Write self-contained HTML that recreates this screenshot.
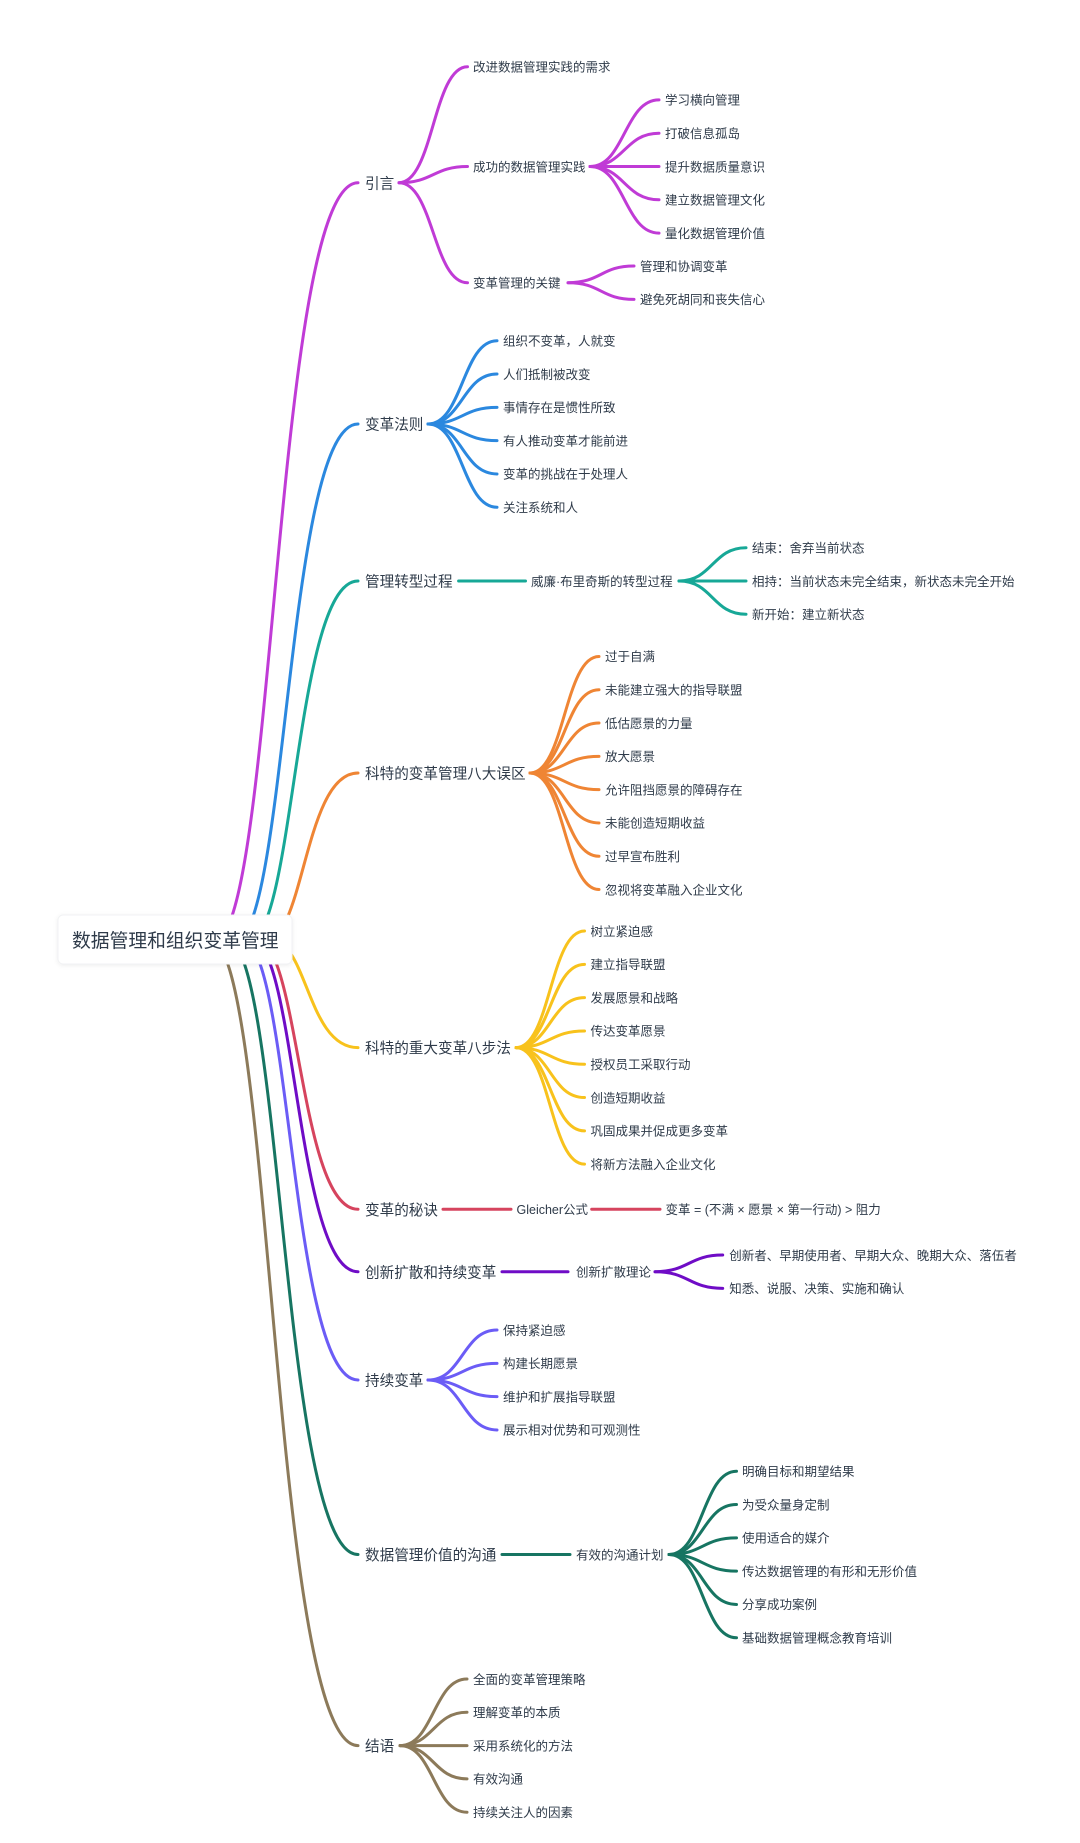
<!DOCTYPE html>
<html>
<head>
<meta charset="utf-8">
<style>
  html,body{margin:0;padding:0;background:#ffffff;}
  body{width:1080px;height:1843px;overflow:hidden;}
  svg{display:block;}
  text{font-family:"Liberation Sans","Noto Sans CJK SC",sans-serif;fill:#2f3b4a;}
  .l1{font-size:14.6px;}
  .l2{font-size:12.5px;}
  .rt{font-size:18.8px;}
  path{fill:none;stroke-width:3;stroke-linecap:round;}
</style>
</head>
<body>
<svg width="1080" height="1843" viewBox="0 0 1080 1843" xmlns="http://www.w3.org/2000/svg">
  <defs>
    <filter id="sh" x="-10%" y="-30%" width="120%" height="160%">
      <feDropShadow dx="0" dy="1" stdDeviation="2" flood-color="#000" flood-opacity="0.07"/>
    </filter>
  </defs>

  <!-- Root links -->
  <path stroke="#c03bd6" d="M214.6 940 C274.8 940 274.8 182.7 358 182.7"/>
  <path stroke="#2b88df" d="M235.4 940 C286.9 940 286.9 424 358 424"/>
  <path stroke="#17a897" d="M249 940 C294.8 940 294.8 581 358 581"/>
  <path stroke="#ef8534" d="M265.6 940 C304.4 940 304.4 773 358 773"/>
  <path stroke="#f8c21c" d="M270.7 940 C307.4 940 307.4 1047.6 358 1047.6"/>
  <path stroke="#d6445e" d="M256.7 940 C299.3 940 299.3 1209.3 358 1209.3"/>
  <path stroke="#6f0cc6" d="M251.3 940 C296.1 940 296.1 1271.7 358 1271.7"/>
  <path stroke="#6b5cf6" d="M242 940 C290.7 940 290.7 1380 358 1380"/>
  <path stroke="#177562" d="M226.9 940 C282 940 282 1554.5 358 1554.5"/>
  <path stroke="#8c7a5a" d="M210.4 940 C272.4 940 272.4 1745.6 358 1745.6"/>

  <!-- Root box -->
  <rect x="58" y="915" width="234" height="49" rx="5" ry="5" fill="#ffffff" stroke="#f1f2f4" stroke-width="1" filter="url(#sh)"/>
  <text class="rt" x="72" y="947.1">数据管理和组织变革管理</text>

  <!-- 引言 -->
  <g stroke="#c03bd6">
    <path d="M399 182.7 C433.25 182.7 433.25 66.7 467.5 66.7"/>
    <path d="M399 182.7 C433.25 182.7 433.25 166.5 467.5 166.5"/>
    <path d="M399 182.7 C433.25 182.7 433.25 282.7 467.5 282.7"/>
    <path d="M590 166.5 C624.5 166.5 624.5 99.9 659 99.9"/>
    <path d="M590 166.5 C624.5 166.5 624.5 133.2 659 133.2"/>
    <path d="M590 166.5 L659 166.5"/>
    <path d="M590 166.5 C624.5 166.5 624.5 199.8 659 199.8"/>
    <path d="M590 166.5 C624.5 166.5 624.5 233.1 659 233.1"/>
    <path d="M568 282.7 C601 282.7 601 266 634 266"/>
    <path d="M568 282.7 C601 282.7 601 299.4 634 299.4"/>
  </g>
  <text class="l1" x="365" y="188.25">引言</text>
  <text class="l2" x="473" y="71.45">改进数据管理实践的需求</text>
  <text class="l2" x="473" y="171.25">成功的数据管理实践</text>
  <text class="l2" x="473" y="287.45">变革管理的关键</text>
  <text class="l2" x="665" y="104.65">学习横向管理</text>
  <text class="l2" x="665" y="137.95">打破信息孤岛</text>
  <text class="l2" x="665" y="171.25">提升数据质量意识</text>
  <text class="l2" x="665" y="204.55">建立数据管理文化</text>
  <text class="l2" x="665" y="237.85">量化数据管理价值</text>
  <text class="l2" x="640" y="270.75">管理和协调变革</text>
  <text class="l2" x="640" y="304.15">避免死胡同和丧失信心</text>

  <!-- 变革法则 -->
  <g stroke="#2b88df">
    <path d="M428 424 C462.5 424 462.5 340.75 497 340.75"/>
    <path d="M428 424 C462.5 424 462.5 374.05 497 374.05"/>
    <path d="M428 424 C462.5 424 462.5 407.35 497 407.35"/>
    <path d="M428 424 C462.5 424 462.5 440.65 497 440.65"/>
    <path d="M428 424 C462.5 424 462.5 473.95 497 473.95"/>
    <path d="M428 424 C462.5 424 462.5 507.25 497 507.25"/>
  </g>
  <text class="l1" x="365" y="429.55">变革法则</text>
  <text class="l2" x="503" y="345.5">组织不变革，人就变</text>
  <text class="l2" x="503" y="378.8">人们抵制被改变</text>
  <text class="l2" x="503" y="412.1">事情存在是惯性所致</text>
  <text class="l2" x="503" y="445.4">有人推动变革才能前进</text>
  <text class="l2" x="503" y="478.7">变革的挑战在于处理人</text>
  <text class="l2" x="503" y="512">关注系统和人</text>

  <!-- 管理转型过程 -->
  <g stroke="#17a897">
    <path d="M458.6 581 L525.5 581"/>
    <path d="M679 581 C712.5 581 712.5 547.7 746 547.7"/>
    <path d="M679 581 L746 581"/>
    <path d="M679 581 C712.5 581 712.5 614.3 746 614.3"/>
  </g>
  <text class="l1" x="365" y="586.55">管理转型过程</text>
  <text class="l2" x="531" y="585.75">威廉·布里奇斯的转型过程</text>
  <text class="l2" x="752" y="552.45">结束：舍弃当前状态</text>
  <text class="l2" x="752" y="585.75">相持：当前状态未完全结束，新状态未完全开始</text>
  <text class="l2" x="752" y="619.05">新开始：建立新状态</text>

  <!-- 科特的变革管理八大误区 -->
  <g stroke="#ef8534">
    <path d="M530 773 C564.5 773 564.5 656.45 599 656.45"/>
    <path d="M530 773 C564.5 773 564.5 689.75 599 689.75"/>
    <path d="M530 773 C564.5 773 564.5 723.05 599 723.05"/>
    <path d="M530 773 C564.5 773 564.5 756.35 599 756.35"/>
    <path d="M530 773 C564.5 773 564.5 789.65 599 789.65"/>
    <path d="M530 773 C564.5 773 564.5 822.95 599 822.95"/>
    <path d="M530 773 C564.5 773 564.5 856.25 599 856.25"/>
    <path d="M530 773 C564.5 773 564.5 889.55 599 889.55"/>
  </g>
  <text class="l1" x="365" y="778.55">科特的变革管理八大误区</text>
  <text class="l2" x="605" y="661.2">过于自满</text>
  <text class="l2" x="605" y="694.5">未能建立强大的指导联盟</text>
  <text class="l2" x="605" y="727.8">低估愿景的力量</text>
  <text class="l2" x="605" y="761.1">放大愿景</text>
  <text class="l2" x="605" y="794.4">允许阻挡愿景的障碍存在</text>
  <text class="l2" x="605" y="827.7">未能创造短期收益</text>
  <text class="l2" x="605" y="861">过早宣布胜利</text>
  <text class="l2" x="605" y="894.3">忽视将变革融入企业文化</text>

  <!-- 科特的重大变革八步法 -->
  <g stroke="#f8c21c">
    <path d="M516 1047.6 C550.25 1047.6 550.25 931.05 584.5 931.05"/>
    <path d="M516 1047.6 C550.25 1047.6 550.25 964.35 584.5 964.35"/>
    <path d="M516 1047.6 C550.25 1047.6 550.25 997.65 584.5 997.65"/>
    <path d="M516 1047.6 C550.25 1047.6 550.25 1030.95 584.5 1030.95"/>
    <path d="M516 1047.6 C550.25 1047.6 550.25 1064.25 584.5 1064.25"/>
    <path d="M516 1047.6 C550.25 1047.6 550.25 1097.55 584.5 1097.55"/>
    <path d="M516 1047.6 C550.25 1047.6 550.25 1130.85 584.5 1130.85"/>
    <path d="M516 1047.6 C550.25 1047.6 550.25 1164.15 584.5 1164.15"/>
  </g>
  <text class="l1" x="365" y="1053.15">科特的重大变革八步法</text>
  <text class="l2" x="590.5" y="935.8">树立紧迫感</text>
  <text class="l2" x="590.5" y="969.1">建立指导联盟</text>
  <text class="l2" x="590.5" y="1002.4">发展愿景和战略</text>
  <text class="l2" x="590.5" y="1035.7">传达变革愿景</text>
  <text class="l2" x="590.5" y="1069">授权员工采取行动</text>
  <text class="l2" x="590.5" y="1102.3">创造短期收益</text>
  <text class="l2" x="590.5" y="1135.6">巩固成果并促成更多变革</text>
  <text class="l2" x="590.5" y="1168.9">将新方法融入企业文化</text>

  <!-- 变革的秘诀 -->
  <g stroke="#d6445e">
    <path d="M443 1209.3 L511 1209.3"/>
    <path d="M591.7 1209.3 L660 1209.3"/>
  </g>
  <text class="l1" x="365" y="1214.85">变革的秘诀</text>
  <text class="l2" x="516.5" y="1214">Gleicher公式</text>
  <text class="l2" x="665.5" y="1214">变革 = (不满 × 愿景 × 第一行动) &gt; 阻力</text>

  <!-- 创新扩散和持续变革 -->
  <g stroke="#6f0cc6">
    <path d="M502 1271.7 L568 1271.7"/>
    <path d="M655 1271.7 C688.85 1271.7 688.85 1255.05 722.7 1255.05"/>
    <path d="M655 1271.7 C688.85 1271.7 688.85 1288.35 722.7 1288.35"/>
  </g>
  <text class="l1" x="365" y="1277.25">创新扩散和持续变革</text>
  <text class="l2" x="576" y="1276.45">创新扩散理论</text>
  <text class="l2" x="729.3" y="1259.8">创新者、早期使用者、早期大众、晚期大众、落伍者</text>
  <text class="l2" x="729.3" y="1293.1">知悉、说服、决策、实施和确认</text>

  <!-- 持续变革 -->
  <g stroke="#6b5cf6">
    <path d="M428 1380 C462.5 1380 462.5 1330.05 497 1330.05"/>
    <path d="M428 1380 C462.5 1380 462.5 1363.35 497 1363.35"/>
    <path d="M428 1380 C462.5 1380 462.5 1396.65 497 1396.65"/>
    <path d="M428 1380 C462.5 1380 462.5 1429.95 497 1429.95"/>
  </g>
  <text class="l1" x="365" y="1385.55">持续变革</text>
  <text class="l2" x="503" y="1334.8">保持紧迫感</text>
  <text class="l2" x="503" y="1368.1">构建长期愿景</text>
  <text class="l2" x="503" y="1401.4">维护和扩展指导联盟</text>
  <text class="l2" x="503" y="1434.7">展示相对优势和可观测性</text>

  <!-- 数据管理价值的沟通 -->
  <g stroke="#177562">
    <path d="M502 1554.5 L570 1554.5"/>
    <path d="M669 1554.5 C702.75 1554.5 702.75 1471.25 736.5 1471.25"/>
    <path d="M669 1554.5 C702.75 1554.5 702.75 1504.55 736.5 1504.55"/>
    <path d="M669 1554.5 C702.75 1554.5 702.75 1537.85 736.5 1537.85"/>
    <path d="M669 1554.5 C702.75 1554.5 702.75 1571.15 736.5 1571.15"/>
    <path d="M669 1554.5 C702.75 1554.5 702.75 1604.45 736.5 1604.45"/>
    <path d="M669 1554.5 C702.75 1554.5 702.75 1637.75 736.5 1637.75"/>
  </g>
  <text class="l1" x="365" y="1560.05">数据管理价值的沟通</text>
  <text class="l2" x="576" y="1559.25">有效的沟通计划</text>
  <text class="l2" x="742" y="1476">明确目标和期望结果</text>
  <text class="l2" x="742" y="1509.3">为受众量身定制</text>
  <text class="l2" x="742" y="1542.6">使用适合的媒介</text>
  <text class="l2" x="742" y="1575.9">传达数据管理的有形和无形价值</text>
  <text class="l2" x="742" y="1609.2">分享成功案例</text>
  <text class="l2" x="742" y="1642.5">基础数据管理概念教育培训</text>

  <!-- 结语 -->
  <g stroke="#8c7a5a">
    <path d="M400 1745.6 C433.5 1745.6 433.5 1679 467 1679"/>
    <path d="M400 1745.6 C433.5 1745.6 433.5 1712.3 467 1712.3"/>
    <path d="M400 1745.6 L467 1745.6"/>
    <path d="M400 1745.6 C433.5 1745.6 433.5 1778.9 467 1778.9"/>
    <path d="M400 1745.6 C433.5 1745.6 433.5 1812.2 467 1812.2"/>
  </g>
  <text class="l1" x="365" y="1751.15">结语</text>
  <text class="l2" x="473" y="1683.75">全面的变革管理策略</text>
  <text class="l2" x="473" y="1717.05">理解变革的本质</text>
  <text class="l2" x="473" y="1750.35">采用系统化的方法</text>
  <text class="l2" x="473" y="1783.65">有效沟通</text>
  <text class="l2" x="473" y="1816.95">持续关注人的因素</text>
</svg>
</body>
</html>
